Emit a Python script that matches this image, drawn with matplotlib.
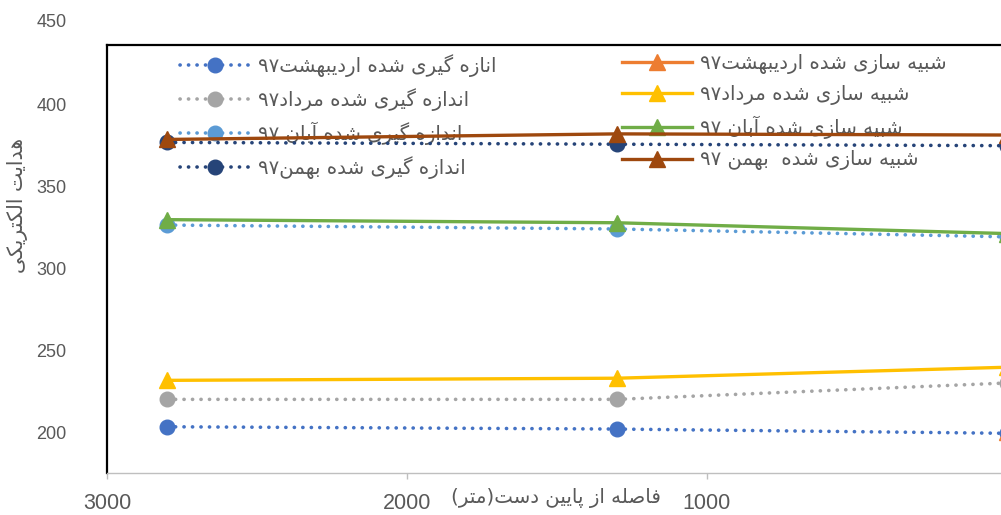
import numpy as np
import matplotlib
matplotlib.use("Agg")
import matplotlib.pyplot as plt
from matplotlib.lines import Line2D
from matplotlib.transforms import blended_transform_factory

plt.rcParams['font.family'] = ['DejaVu Sans']

# ---- data -------------------------------------------------------------
distance = [2800, 1300, 0]

measured_ordibehesht = [203.2, 201.8, 199.2]
simulated_ordibehesht = [np.nan, np.nan, 200.0]
measured_mordad = [219.9, 219.9, 229.9]
simulated_mordad = [231.5, 232.8, 239.5]
measured_aban = [326.2, 323.8, 319.0]
simulated_aban = [329.5, 327.6, 321.0]
measured_bahman = [376.6, 375.5, 374.6]
simulated_bahman = [378.4, 381.8, 381.1]

measured_labels = [
    "انازه گیری شده اردیبهشت۹۷",
    "اندازه گیری شده مرداد۹۷",
    "اندازه گیری شده آبان ۹۷",
    "اندازه گیری شده بهمن۹۷",
]
simulated_labels = [
    "شبیه سازی شده اردیبهشت۹۷",
    "شبیه سازی شده مرداد۹۷",
    "شبیه سازی شده آبان ۹۷",
    "شبیه سازی شده  بهمن ۹۷",
]
x_ticks = [3000, 2000, 1000, 0]
y_ticks = [200, 250, 300, 350, 400, 450]
x_title = "فاصله از پایین دست(متر)"
y_title = "هدایت الکتریکی"

measured_colors = ["#4472C4", "#A5A5A5", "#5B9BD5", "#264478"]
simulated_colors = ["#ED7D31", "#FFC000", "#70AD47", "#9E480E"]

# ---- minimal Persian shaping (contextual forms + visual order) --------
FORMS = {
    'ا': ('\uFE8D', '\uFE8E', None, None),
    'آ': ('\uFE81', '\uFE82', None, None),
    'د': ('\uFEA9', '\uFEAA', None, None),
    'ر': ('\uFEAD', '\uFEAE', None, None),
    'ز': ('\uFEAF', '\uFEB0', None, None),
    'ب': ('\uFE8F', '\uFE90', '\uFE91', '\uFE92'),
    'پ': ('\uFB56', '\uFB57', '\uFB58', '\uFB59'),
    'ت': ('\uFE95', '\uFE96', '\uFE97', '\uFE98'),
    'س': ('\uFEB1', '\uFEB2', '\uFEB3', '\uFEB4'),
    'ش': ('\uFEB5', '\uFEB6', '\uFEB7', '\uFEB8'),
    'ص': ('\uFEB9', '\uFEBA', '\uFEBB', '\uFEBC'),
    'ف': ('\uFED1', '\uFED2', '\uFED3', '\uFED4'),
    'ک': ('\uFB8E', '\uFB8F', '\uFB90', '\uFB91'),
    'گ': ('\uFB92', '\uFB93', '\uFB94', '\uFB95'),
    'ل': ('\uFEDD', '\uFEDE', '\uFEDF', '\uFEE0'),
    'م': ('\uFEE1', '\uFEE2', '\uFEE3', '\uFEE4'),
    'ن': ('\uFEE5', '\uFEE6', '\uFEE7', '\uFEE8'),
    'ه': ('\uFEE9', '\uFEEA', '\uFEEB', '\uFEEC'),
    'ی': ('\uFBFC', '\uFBFD', '\uFBFE', '\uFBFF'),
}
MIRROR = {'(': ')', ')': '('}


def fa(text):
    shaped = []
    n = len(text)
    for i, ch in enumerate(text):
        if ch not in FORMS:
            shaped.append(ch)
            continue
        iso, fin, ini, med = FORMS[ch]
        prev = text[i - 1] if i > 0 else None
        nxt = text[i + 1] if i + 1 < n else None
        join_prev = prev in FORMS and FORMS[prev][2] is not None
        join_next = ini is not None and nxt in FORMS
        if join_prev and join_next:
            shaped.append(med)
        elif join_prev:
            shaped.append(fin)
        elif join_next:
            shaped.append(ini)
        else:
            shaped.append(iso)
    # split into tokens, keeping digit runs left-to-right
    tokens = []
    buf = ""
    for ch in shaped:
        if ch.isdigit():
            buf += ch
        else:
            if buf:
                tokens.append(buf)
                buf = ""
            tokens.append(MIRROR.get(ch, ch))
    if buf:
        tokens.append(buf)
    return "".join(reversed(tokens))


# ---- figure -----------------------------------------------------------
W, H = 1001, 515
fig = plt.figure(figsize=(W / 100, H / 100), dpi=100)
ax = fig.add_axes([107 / W, 42 / H, 900 / W, 428 / H])

ax.set_xlim(3000, 0)
ax.set_ylim(175.0, 436.0)

text_gray = "#595959"
num_font = ['Liberation Sans', 'DejaVu Sans']
dot_dashes = (0.05, 2.3)

measured = [measured_ordibehesht, measured_mordad, measured_aban, measured_bahman]
simulated = [simulated_ordibehesht, simulated_mordad, simulated_aban, simulated_bahman]

meas_handles = []
sim_handles = []
z = 3
for m_vals, s_vals, mc, sc in zip(measured, simulated, measured_colors, simulated_colors):
    ax.plot(distance, m_vals, color=mc, lw=2.6, dashes=dot_dashes,
            dash_capstyle='round', marker='o', ms=10.5, mec=mc, mfc=mc, zorder=z)
    z += 1
    ax.plot(distance, s_vals, color=sc, lw=2.4, solid_capstyle='round',
            marker='^', ms=11, mec=sc, mfc=sc, zorder=z)
    z += 1
    meas_handles.append(Line2D([], [], color=mc, lw=2.6, dashes=dot_dashes,
                               dash_capstyle='round', marker='o', ms=10.5, mec=mc, mfc=mc))
    sim_handles.append(Line2D([], [], color=sc, lw=2.4, marker='^', ms=11, mec=sc, mfc=sc))

# spines
for side in ("left", "top"):
    ax.spines[side].set_color("black")
    ax.spines[side].set_linewidth(1.6)
ax.spines["right"].set_visible(False)
ax.spines["bottom"].set_color("#BFBFBF")
ax.spines["bottom"].set_linewidth(1.0)

# ticks
ax.set_xticks(x_ticks)
ax.set_xticklabels([str(v) for v in x_ticks])
ax.tick_params(axis='x', direction='out', length=4.5, width=1, color="#BFBFBF",
               pad=10, labelsize=15.5, labelcolor=text_gray)
vis_y = [v for v in y_ticks if v <= 436]
ax.set_yticks(vis_y)
ax.set_yticklabels([str(v) for v in vis_y])
ax.tick_params(axis='y', length=0, pad=29, labelsize=13, labelcolor=text_gray)
for lab in ax.get_xticklabels() + ax.get_yticklabels():
    lab.set_fontfamily(num_font)

# tick values above the plotting frame
trans = blended_transform_factory(ax.transAxes, ax.transData)
for v in y_ticks:
    if v > 436:
        ax.text(-40 / 900, v, str(v), transform=trans, ha='right', va='center',
                fontsize=13, color=text_gray, clip_on=False, family=num_font)

# axis titles
ax.set_xlabel(fa(x_title), fontsize=14.2, color=text_gray)
ax.xaxis.set_label_coords(0.499, -25 / 428)
ax.xaxis.label.set_va('center')
ax.set_ylabel(fa(y_title), fontsize=14.8, color=text_gray)
ax.yaxis.set_label_coords(-89 / 900, 268 / 428)
ax.yaxis.label.set_va('center')
ax.yaxis.label.set_ha('center')

# legends (two columns, drawn beneath the series)
leg_kw = dict(frameon=False, fontsize=14.2, handlelength=3.55, handletextpad=0.4,
              labelspacing=0.56, borderpad=0, borderaxespad=0, labelcolor=text_gray,
              loc='upper left')
leg1 = ax.legend(meas_handles, [fa(t) for t in measured_labels],
                 bbox_to_anchor=(73 / 900, (473 - 54) / 428), **leg_kw)
leg1.set_zorder(1)
ax.add_artist(leg1)
leg2 = ax.legend(sim_handles, [fa(t) for t in simulated_labels],
                 bbox_to_anchor=(515 / 900, (473 - 54) / 428), **leg_kw)
leg2.set_zorder(1)

fig.savefig("out.png", dpi=100)
